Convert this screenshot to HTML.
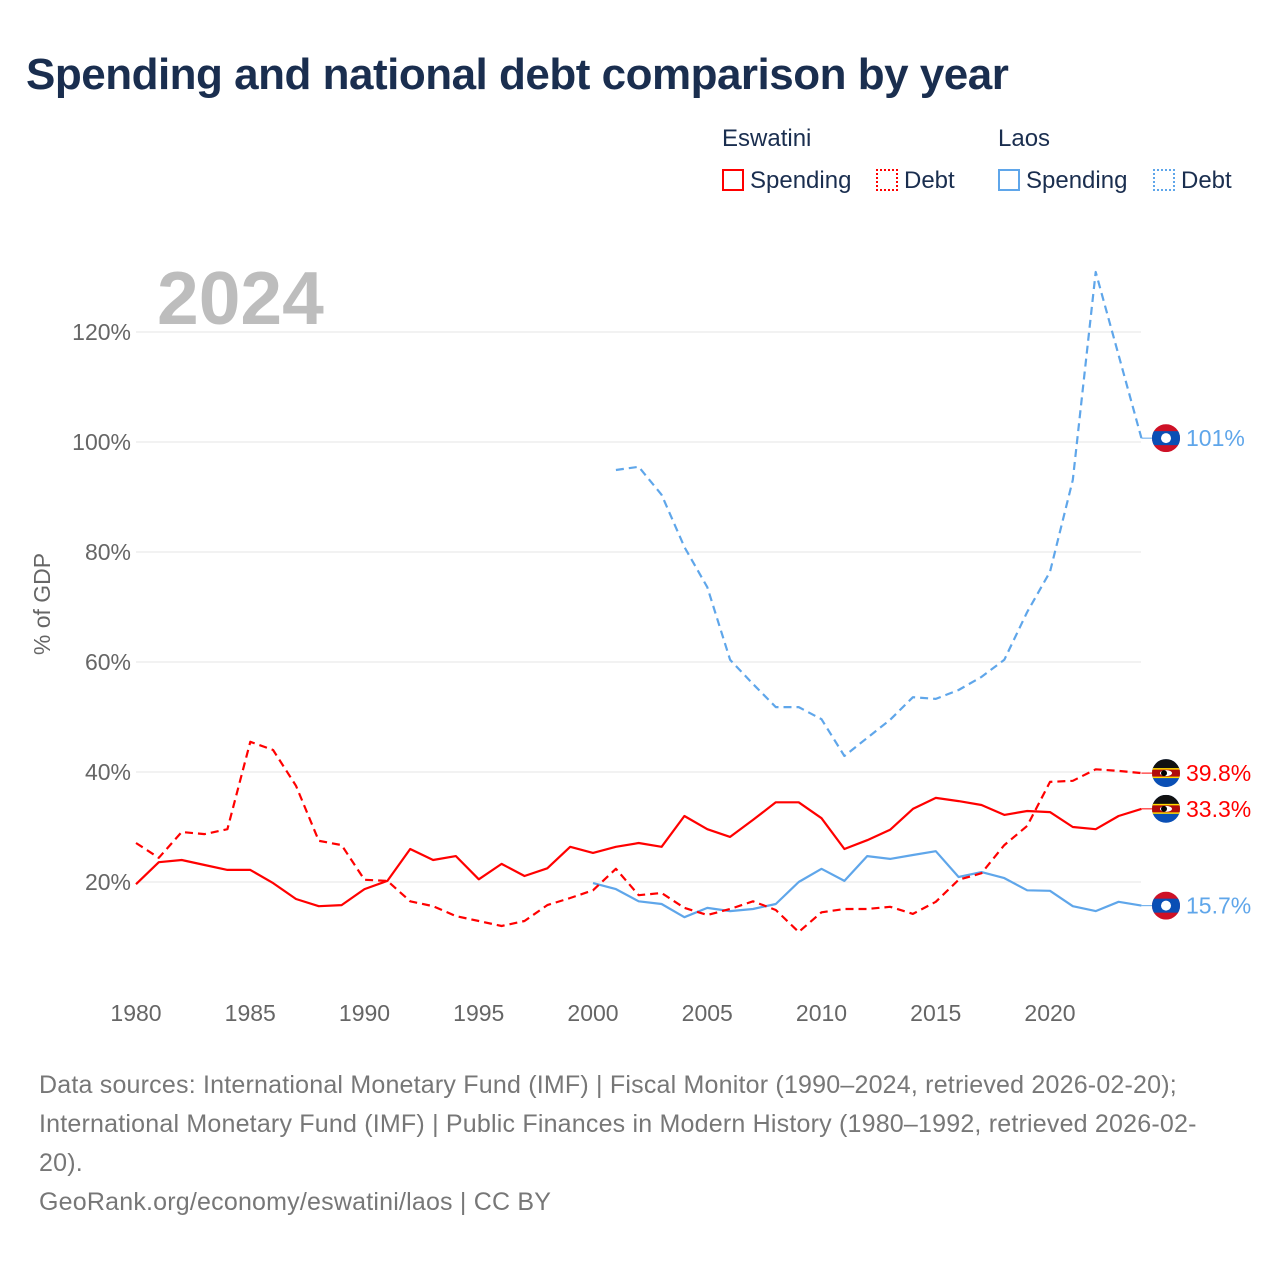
<!DOCTYPE html>
<html><head><meta charset="utf-8">
<style>
body{margin:0;background:#fff;font-family:"Liberation Sans",sans-serif;}
#wrap{position:relative;width:1280px;height:1280px;overflow:hidden;}
.title{position:absolute;left:26px;top:50px;font-size:44px;font-weight:bold;color:#1a2e4f;letter-spacing:-0.5px;}
.leg{position:absolute;font-size:24px;color:#1a2e4f;}
.box{display:inline-block;width:22px;height:22px;box-sizing:border-box;vertical-align:-3px;margin-right:6px;}
.foot{position:absolute;left:39px;top:1066px;font-size:25px;letter-spacing:0.2px;line-height:39px;color:#777;width:1240px;}
</style></head><body>
<div id="wrap">
<div class="title">Spending and national debt comparison by year</div>
<div class="leg" style="left:722px;top:125px">Eswatini</div>
<div class="leg" style="left:998px;top:125px">Laos</div>
<div class="leg" style="left:722px;top:167px"><span class="box" style="border:2px solid #f00"></span>Spending</div>
<div class="leg" style="left:876px;top:167px"><span class="box" style="border:2px dotted #f00"></span>Debt</div>
<div class="leg" style="left:998px;top:167px"><span class="box" style="border:2px solid #5fa6ea"></span>Spending</div>
<div class="leg" style="left:1153px;top:167px"><span class="box" style="border:2px dotted #5fa6ea"></span>Debt</div>
<svg id="chart" width="1280" height="1280" style="position:absolute;left:0;top:0"></svg>
<div class="foot">Data sources: International Monetary Fund (IMF) | Fiscal Monitor (1990–2024, retrieved 2026-02-20);<br>International Monetary Fund (IMF) | Public Finances in Modern History (1980–1992, retrieved 2026-02-<br>20).<br>GeoRank.org/economy/eswatini/laos | CC BY</div>
</div>
<script>
const yTicks=[20,40,60,80,100,120];
const xTicks=[1980,1985,1990,1995,2000,2005,2010,2015,2020];
const eswYears=[];for(let y=1980;y<=2024;y++)eswYears.push(y);
const eswSpending=[19.6,23.6,24,23.1,22.2,22.2,19.8,16.9,15.6,15.8,18.7,20.2,26,24,24.7,20.5,23.3,21.1,22.5,26.4,25.3,26.4,27.1,26.4,32,29.6,28.2,31.3,34.5,34.5,31.6,26,27.6,29.5,33.3,35.3,34.7,34,32.2,32.9,32.7,30,29.6,32,33.3];
const eswDebt=[27.1,24.4,29.1,28.7,29.6,45.5,44,37.5,27.5,26.7,20.4,20.2,16.5,15.6,13.8,12.9,12,12.9,15.8,17.1,18.5,22.4,17.6,18,15.3,14,15.1,16.5,14.9,10.9,14.5,15.1,15.1,15.5,14.2,16.4,20.4,21.6,26.7,30.2,38.2,38.4,40.5,40.2,39.8];
const laoSpendYears=[];for(let y=2000;y<=2024;y++)laoSpendYears.push(y);
const laoSpending=[19.8,18.7,16.5,16,13.6,15.3,14.7,15.1,16,20,22.4,20.2,24.7,24.2,24.9,25.6,20.9,21.8,20.7,18.5,18.4,15.6,14.7,16.4,15.7];
const laoDebtYears=[];for(let y=2001;y<=2024;y++)laoDebtYears.push(y);
const laoDebt=[94.9,95.5,90.4,80.9,73.6,60.4,56,51.8,51.8,49.6,42.9,46.2,49.5,53.6,53.3,54.9,57.3,60.4,69.1,76.4,93.1,130.9,115.8,100.7];
const endLabels=[["101%",laoDebt,"#5fa6ea","lao"],["39.8%",eswDebt,"#f00","esw"],["33.3%",eswSpending,"#f00","esw"],["15.7%",laoSpending,"#5fa6ea","lao"]];

const NS="http://www.w3.org/2000/svg";
const svg=document.getElementById('chart');
const X=yr=>136+(yr-1980)*22.85;
const Y=v=>992-v*5.5;
function mk(t,a,p){const e=document.createElementNS(NS,t);for(const k in a)e.setAttribute(k,a[k]);(p||svg).appendChild(e);return e;}
const yr=mk('text',{x:157,y:324,'font-size':75,'font-weight':'bold',fill:'#bdbdbd','font-family':'Liberation Sans'});yr.textContent='2024';


yTicks.forEach(v=>{
 const l=mk('line',{x1:136,x2:1141,y1:Y(v),y2:Y(v),stroke:'#e6e6e6','stroke-width':1});
 
 
 const t=mk('text',{x:131,y:Y(v)+8,'text-anchor':'end','font-size':23,fill:'#666'});t.textContent=v+'%';
 
 
});
xTicks.forEach(v=>{
 const t=mk('text',{x:X(v),y:1021,'text-anchor':'middle','font-size':23,fill:'#666'});t.textContent=v;
 
 
});
const yt=mk('text',{x:0,y:0,transform:'translate(50,604) rotate(-90)','text-anchor':'middle','font-size':23,fill:'#666'});yt.textContent='% of GDP';


function line(xs,vs,color,dash,name){
 const d=xs.map((x,i)=>(i?'L':'M')+X(x).toFixed(1)+','+Y(vs[i]).toFixed(1)).join('');
 const p=mk('path',{d:d,fill:'none',stroke:color,'stroke-width':2.2,'stroke-dasharray':dash||'none','stroke-linejoin':'round'});
 
 
}
line(laoSpendYears,laoSpending,'#5fa6ea',null,'line-laos-spending');
line(laoDebtYears,laoDebt,'#5fa6ea','8,5','line-laos-debt');
line(eswYears,eswSpending,'#f00',null,'line-eswatini-spending');
line(eswYears,eswDebt,'#f00','8,5','line-eswatini-debt');
function flag(cx,cy,kind){
 const g=mk('g',{});
 
 
 const id='c'+Math.round(cx)+Math.round(cy);
 const cp=mk('clipPath',{id:id},g);mk('circle',{cx:cx,cy:cy,r:14},cp);
 const gg=mk('g',{'clip-path':'url(#'+id+')'},g);
 if(kind==='lao'){
  mk('rect',{x:cx-14,y:cy-14,width:28,height:28,fill:'#ce1126'},gg);
  mk('rect',{x:cx-14,y:cy-7,width:28,height:14,fill:'#0a4fb5'},gg);
  mk('circle',{cx:cx,cy:cy,r:5,fill:'#fff'},gg);
 }else{
  mk('rect',{x:cx-14,y:cy-14,width:28,height:28,fill:'#0a4fb5'},gg);
  mk('rect',{x:cx-14,y:cy-14,width:28,height:10,fill:'#111'},gg);
  mk('rect',{x:cx-14,y:cy-5,width:28,height:10,fill:'#ffd900'},gg);
  mk('rect',{x:cx-14,y:cy-3.5,width:28,height:7,fill:'#b10c0c'},gg);
  mk('ellipse',{cx:cx,cy:cy,rx:6,ry:3,fill:'#fff'},gg);
  mk('ellipse',{cx:cx-2,cy:cy,rx:3,ry:3,fill:'#000'},gg);
 }
}
endLabels.forEach(([txt,arr,col,kind])=>{
 const y=Y(arr[arr.length-1]);
 mk('line',{x1:X(2024),x2:1152,y1:y,y2:y,stroke:col,'stroke-width':1});
 flag(1166,y,kind);
 const t=mk('text',{x:1186,y:y+8,'font-size':23,fill:col});t.textContent=txt;
 
 
});
</script>
</body></html>
